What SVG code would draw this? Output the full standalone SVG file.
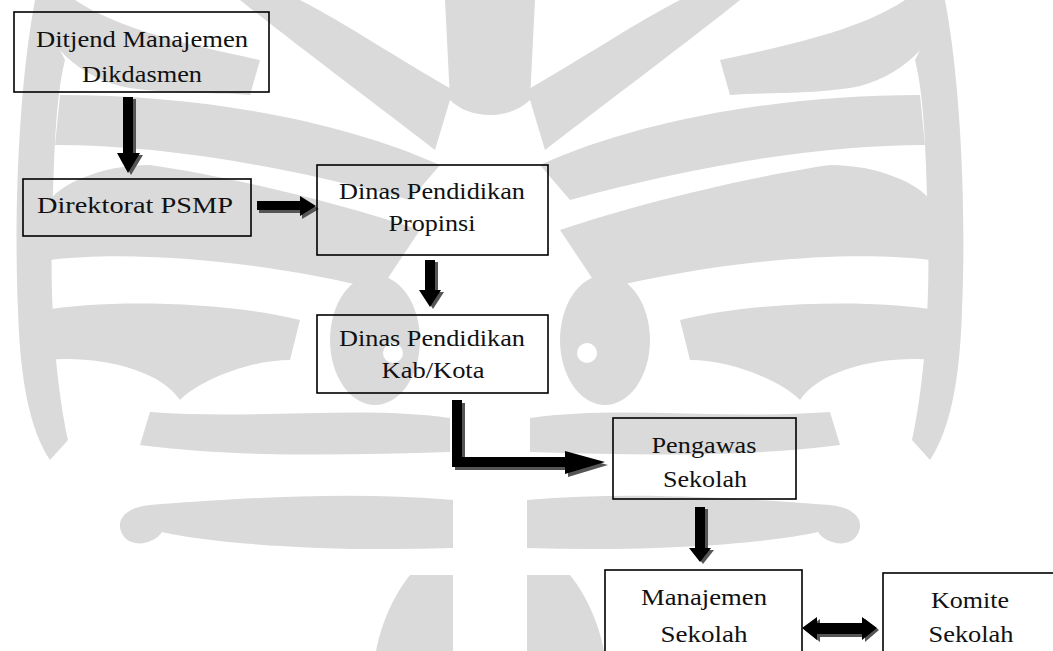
<svg xmlns="http://www.w3.org/2000/svg" width="1053" height="651" viewBox="0 0 1053 651">
  <style>
    .box { fill: none; stroke: #000000; stroke-width: 1.6; }
    .lbl { font-family: "Liberation Serif", "Times New Roman", Times, serif; font-size: 24px; fill: #111111; text-anchor: middle; }
    .arr { fill: #000000; }
    .shd { fill: #555555; }
    .wm { fill: #dadada; }
    .wmw { fill: #ffffff; }
  </style>
  <rect width="1053" height="651" fill="#ffffff"/>

  <defs>
    <g id="wmhalf">
      <path class="wm" d="M527,90 C580,60 640,20 680,0 L740,0 C690,40 610,100 545,150 Z"/>
      <path class="wm" d="M720,60 C790,45 860,30 905,0 L945,0 C940,40 900,80 850,88 C800,95 760,92 730,95 Z"/>
      <path class="wm" d="M945,0 C962,90 966,220 962,310 C960,380 950,430 930,460 L912,440 C925,380 930,300 928,230 C926,160 925,100 915,60 Z"/>
      <path class="wm" d="M540,165 C640,120 780,95 920,95 L925,145 C820,145 700,165 570,200 Z"/>
      <path class="wm" d="M560,230 C650,200 760,175 830,165 C880,165 920,185 930,200 L930,260 C850,250 720,260 600,290 Z"/>
      <path class="wm" d="M680,320 C760,300 880,300 935,310 L935,360 C880,355 820,370 800,400 C780,380 730,360 690,360 Z"/>
      <ellipse class="wm" cx="605" cy="340" rx="45" ry="65"/>
      <circle class="wmw" cx="587" cy="353" r="10"/>
      <path class="wm" d="M530,418 C620,405 720,420 830,412 L840,445 C740,458 630,455 530,452 Z"/>
      <path class="wm" d="M527,500 C640,490 760,500 830,505 C860,508 866,525 855,538 C845,548 825,543 818,532 C760,545 640,552 527,548 Z"/>
      <path class="wm" d="M527,575 L570,575 C590,600 600,630 604,651 L527,651 Z"/>
    </g>
  </defs>

  <g id="watermark">
    <use href="#wmhalf"/>
    <use href="#wmhalf" transform="translate(980,0) scale(-1,1)"/>
    <path class="wm" d="M445,0 L535,0 L530,100 C510,120 470,120 450,100 Z"/>
  </g>

  <g id="connectors">
    <g id="c1">
      <polygon class="shd" points="126,99 136,99 136,155 143,155 131,175 120,155 126,155"/>
      <polygon class="arr" points="123,97 133,97 133,153 140,153 128,173 117,153 123,153"/>
    </g>
    <g id="c2">
      <polygon class="shd" points="259,204 302,204 302,199 319,209 302,219 302,213 259,213"/>
      <polygon class="arr" points="257,201 300,201 300,196 316,206 300,216 300,210 257,210"/>
    </g>
    <g id="c3">
      <polygon class="shd" points="428,262 438,262 438,292 444,292 433,309 422,292 428,292"/>
      <polygon class="arr" points="425,260 435,260 435,290 441,290 430,307 419,290 425,290"/>
    </g>
    <g id="c4">
      <polygon class="shd" points="455,403 465,403 465,460 568,460 568,454 608,465 568,477 568,470 455,470"/>
      <polygon class="arr" points="452,400 462,400 462,457 565,457 565,451 605,462 565,474 565,467 452,467"/>
    </g>
    <g id="c5">
      <polygon class="shd" points="698,509 708,509 708,550 714,550 703,564 692,550 698,550"/>
      <polygon class="arr" points="695,507 705,507 705,548 711,548 700,562 689,548 695,548"/>
    </g>
    <g id="c6">
      <polygon class="shd" points="805,630 820,619 820,626 865,626 865,619 879,630 865,642 865,637 820,637 820,642"/>
      <polygon class="arr" points="802,628 817,617 817,623 862,623 862,617 877,628 862,640 862,634 817,634 817,640"/>
    </g>
  </g>

  <g id="n1">
    <rect class="box" x="14" y="12" width="255" height="80"/>
    <text class="lbl" x="142" y="47" textLength="212" lengthAdjust="spacingAndGlyphs">Ditjend Manajemen</text>
    <text class="lbl" x="142" y="82" textLength="120" lengthAdjust="spacingAndGlyphs">Dikdasmen</text>
  </g>
  <g id="n2">
    <rect class="box" x="23" y="179" width="228" height="57"/>
    <text class="lbl" x="135" y="213" textLength="196" lengthAdjust="spacingAndGlyphs">Direktorat PSMP</text>
  </g>
  <g id="n3">
    <rect class="box" x="317" y="165" width="231" height="90"/>
    <text class="lbl" x="432" y="199" textLength="186" lengthAdjust="spacingAndGlyphs">Dinas Pendidikan</text>
    <text class="lbl" x="432" y="231" textLength="87" lengthAdjust="spacingAndGlyphs">Propinsi</text>
  </g>
  <g id="n4">
    <rect class="box" x="317" y="315" width="231" height="78"/>
    <text class="lbl" x="432" y="346" textLength="186" lengthAdjust="spacingAndGlyphs">Dinas Pendidikan</text>
    <text class="lbl" x="433" y="378" textLength="103" lengthAdjust="spacingAndGlyphs">Kab/Kota</text>
  </g>
  <g id="n5">
    <rect class="box" x="613" y="418" width="183" height="81"/>
    <text class="lbl" x="704" y="453" textLength="105" lengthAdjust="spacingAndGlyphs">Pengawas</text>
    <text class="lbl" x="705" y="487" textLength="84" lengthAdjust="spacingAndGlyphs">Sekolah</text>
  </g>
  <g id="n6">
    <rect class="box" x="605" y="570" width="197" height="95"/>
    <text class="lbl" x="704" y="605" textLength="126" lengthAdjust="spacingAndGlyphs">Manajemen</text>
    <text class="lbl" x="704" y="642" textLength="87" lengthAdjust="spacingAndGlyphs">Sekolah</text>
  </g>
  <g id="n7">
    <rect class="box" x="883" y="573" width="185" height="95"/>
    <text class="lbl" x="970" y="608" textLength="78" lengthAdjust="spacingAndGlyphs">Komite</text>
    <text class="lbl" x="971" y="642" textLength="85" lengthAdjust="spacingAndGlyphs">Sekolah</text>
  </g>
</svg>
